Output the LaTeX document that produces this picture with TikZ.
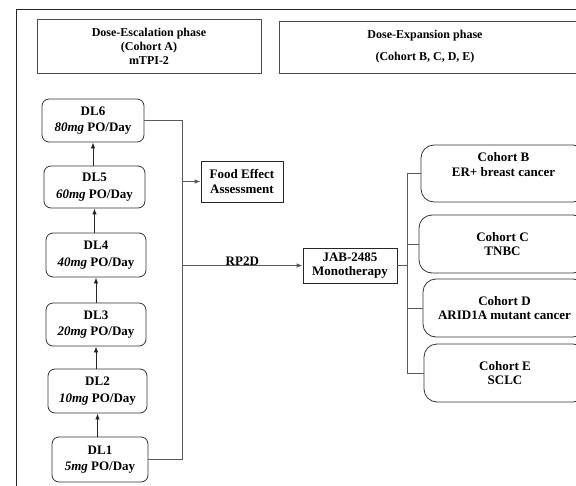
\documentclass[tikz,border=0pt]{standalone}
\usepackage{fontspec}
\setmainfont{Liberation Serif}
\usetikzlibrary{arrows.meta}
\begin{document}
\begin{tikzpicture}[x=1pt,y=-1pt,
  font=\fontsize{13}{14.5}\selectfont\bfseries,
  hdr/.style={draw=black!70, line width=0.8pt, inner sep=0pt},
  hdrtext/.style={font=\fontsize{12}{14}\selectfont\bfseries, align=center, inner sep=0pt},
  dlbox/.style={draw=black!80, line width=0.8pt, rounded corners=7pt, minimum height=43pt, align=center, inner sep=0pt},
  sqbox/.style={draw=black!85, line width=0.8pt, align=center, inner sep=0pt},
  cohbox/.style={draw=black!80, line width=0.8pt, rounded corners=13pt, minimum height=58pt, align=center, inner sep=0pt},
  wire/.style={draw=black!65, line width=0.8pt},
  arr/.style={wire, -{Latex[length=6pt,width=4.5pt]}},
  uparr/.style={draw=black!85, line width=0.8pt, -{Latex[length=6pt,width=4.5pt]}}]
\useasboundingbox (0,0) rectangle (576,485);
\clip (0,0) rectangle (576,485);
% outer frame
\draw[line width=0.9pt, black!85] (16,495) -- (16,9.5) -- (590,9.5);
% headers
\node[hdr, minimum width=224pt, minimum height=54pt] (hA) at (149,46) {};
\node[hdrtext] (hAt) at (hA.center) {Dose-Escalation phase\\(Cohort A)\\mTPI-2};
\node[hdr, minimum width=312pt, minimum height=52pt] (hB) at (435,47) {};
\node[hdrtext] (hBt) at (425,46.5) {Dose-Expansion phase\\[8pt](Cohort B, C, D, E)};
% dose levels
\node[dlbox, minimum width=102pt] (dl6) at (93,120.5) {DL6\\[2pt]\textit{80mg} PO/Day};
\node[dlbox, minimum width=101pt, minimum height=42pt] (dl5) at (94.5,187) {DL5\\[2pt]\textit{60mg} PO/Day};
\node[dlbox, minimum width=100pt, minimum height=44pt] (dl4) at (96,255) {DL4\\[2pt]\textit{40mg} PO/Day};
\node[dlbox, minimum width=100pt] (dl3) at (96,324.5) {DL3\\[2pt]\textit{20mg} PO/Day};
\node[dlbox, minimum width=99pt, minimum height=44pt] (dl2) at (97.5,391) {DL2\\[2pt]\textit{10mg} PO/Day};
\node[dlbox, minimum width=96pt, minimum height=45pt] (dl1) at (100,459.5) {DL1\\[2pt]\textit{5mg} PO/Day};
\draw[uparr] (dl2.south |- dl1.north) -- (dl2.south);
\draw[uparr] (dl3.south |- dl2.north) -- (dl3.south);
\draw[uparr] (dl4.south |- dl3.north) -- (dl4.south);
\draw[uparr] (dl5.south |- dl4.north) -- (dl5.south);
\draw[uparr] (dl6.south |- dl5.north) -- (dl6.south);
% bus
\coordinate (bus) at (182,0);
\draw[wire] (dl6.east) -| (bus |- dl1.east) -- (dl1.east);
% food effect and RP2D
\node[sqbox, minimum width=82pt, minimum height=41pt] (food) at (242,181.5) {Food Effect\\Assessment};
\node[sqbox, minimum width=94pt, minimum height=35pt] (jab) at (350,265.5) {JAB-2485\\Monotherapy};
\draw[arr] (bus |- food.west) -- (food.west);
\draw[arr] (bus |- jab.west) -- node[above=-1pt, pos=0.5, inner sep=1pt] (rp) {RP2D} (jab.west);
% cohorts
\node[cohbox, minimum width=165pt, minimum height=57pt] (cB) at (503.5,173.5) {Cohort B\\ER+ breast cancer\\[4pt]};
\node[cohbox, minimum width=167pt] (cC) at (502.5,244) {Cohort C\\TNBC};
\node[cohbox, minimum width=163pt] (cD) at (504.5,308) {Cohort D\\ARID1A mutant cancer};
\node[cohbox, minimum width=162pt] (cE) at (505,373) {Cohort E\\SCLC};
\coordinate (br) at (407,0);
\draw[wire] (jab.east) -- (br |- jab.east);
\draw[wire] (cB.west) -- (br |- cB.west) -- (br |- cE.west) -- (cE.west);
\draw[wire] (br |- cC.west) -- (cC.west);
\draw[wire] (br |- cD.west) -- (cD.west);
\end{tikzpicture}
\end{document}
